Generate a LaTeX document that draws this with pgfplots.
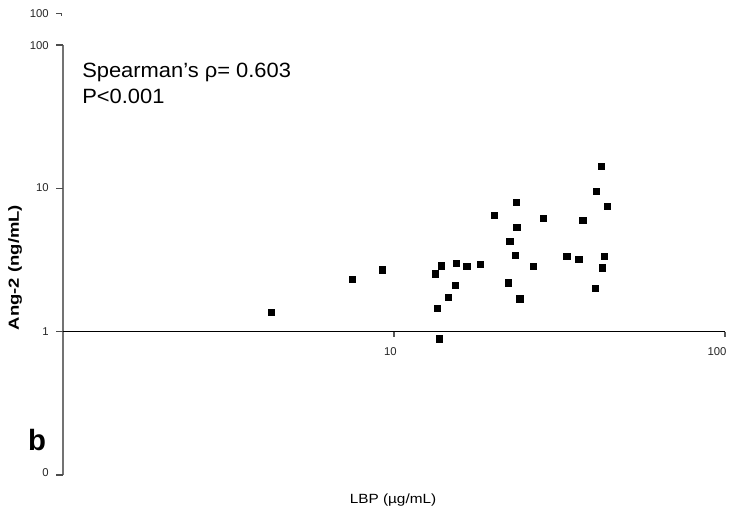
\documentclass[border=0pt]{standalone}
\usepackage{fontspec}
\setmainfont{Liberation Sans}
\usepackage{pgfplots}
\pgfplotsset{compat=1.18}

% 1 px of the reference = 0.75pt
\begin{document}
\begin{tikzpicture}
\begin{axis}[
    scale only axis,
    width=496.5pt,
    height=322.5pt,
    xmode=log,
    ymode=log,
    xmin=1, xmax=100,
    ymin=0.1, ymax=100,
    hide axis,
    clip=false,
]
% axes drawn by hand: y axis at x=1, x axis crossing at y=1
\draw[gray!90!black, line width=1.1pt] (rel axis cs:0,0) -- (rel axis cs:0,1);
\draw[black, line width=1.1pt] (axis cs:1,1) -- (axis cs:100,1);
\draw[gray!60!black, line width=0.8pt] (axis cs:1,0.1) -- ++(-5pt,0pt);
\draw[gray!60!black, line width=0.8pt] (axis cs:1,1) -- ++(-5pt,0pt);
\draw[gray!60!black, line width=0.8pt] (axis cs:1,10) -- ++(-5pt,0pt);
\draw[gray!60!black, line width=0.8pt] (axis cs:1,100) -- ++(-5pt,0pt);
\draw[gray!60!black, line width=0.6pt] (rel axis cs:0,1.072) ++(-5pt,0.7pt) -- ++(4pt,0pt) -- ++(0pt,-2.5pt);
\draw[gray!70!black, line width=0.8pt] (axis cs:10,1) -- ++(0pt,-4pt);
\draw[gray!70!black, line width=0.8pt] (axis cs:100,1) -- ++(0pt,-4pt);

% tick labels
\begin{scope}[every node/.style={font=\fontsize{8.5}{10}\selectfont, text=black!85, inner sep=0pt}]
\node[anchor=east] at (rel axis cs:-0.0212,1.0721) {100};
\node[anchor=east] at (rel axis cs:-0.0212,0.9977) {100};
\node[anchor=east] at (rel axis cs:-0.0212,0.6674) {10};
\node[anchor=east] at (rel axis cs:-0.0212,0.3337) {1};
\node[anchor=east] at (rel axis cs:-0.0212,0.0047) {0};
\node at (rel axis cs:0.4947,0.2872) {10};
\node at (rel axis cs:0.9879,0.2872) {100};
\end{scope}

% axis titles and annotations
\node[rotate=90, font=\fontsize{11}{13}\selectfont\bfseries, inner sep=0pt]
    at (rel axis cs:-0.0725,0.4826) {\scalebox{1.26}[1]{Ang-2 (ng/mL)}};
\node[font=\fontsize{10}{12}\selectfont, inner sep=0pt]
    at (rel axis cs:0.4985,-0.0581) {\scalebox{1.15}[1]{LBP (µg/mL)}};
\node[anchor=base west, font=\fontsize{15.5}{18}\selectfont, inner sep=0pt]
    at (rel axis cs:0.0287,0.9249) {\scalebox{1.06}[1]{Spearman’s ρ= 0.603}};
\node[anchor=base west, font=\fontsize{15.5}{18}\selectfont, inner sep=0pt]
    at (rel axis cs:0.0287,0.8644) {\scalebox{1.06}[1]{P<0.001}};
\node[anchor=base west, font=\fontsize{22}{26}\selectfont\bfseries, inner sep=0pt]
    at (rel axis cs:-0.0529,0.0581) {b};

\addplot[only marks, mark=square*, mark size=2.4pt, black] coordinates {
    (4.25,1.36) (7.47,2.31) (9.20,2.71) (13.5,1.45) (13.3,2.54)
    (13.9,2.89) (14.6,1.73) (15.3,2.10) (15.4,2.99) (16.6,2.85)
    (18.2,2.94) (13.7,0.89) (20.1,6.48) (22.1,2.20) (22.4,4.26)
    (23.2,3.40) (23.4,7.98) (23.5,5.34) (24.0,1.70) (26.3,2.85)
    (28.2,6.17) (33.3,3.35) (36.2,3.19) (37.2,5.97) (40.5,2.00)
    (40.8,9.53) (42.2,14.3) (42.5,2.80) (43.1,3.35) (44.0,7.48)
};
\coordinate (bl) at (rel axis cs:0,0);
\end{axis}
\pgfresetboundingbox
\path[use as bounding box] ([shift={(-47.25pt,-27pt)}]bl) rectangle ([shift={(504.75pt,356.25pt)}]bl);
\end{tikzpicture}
\end{document}
